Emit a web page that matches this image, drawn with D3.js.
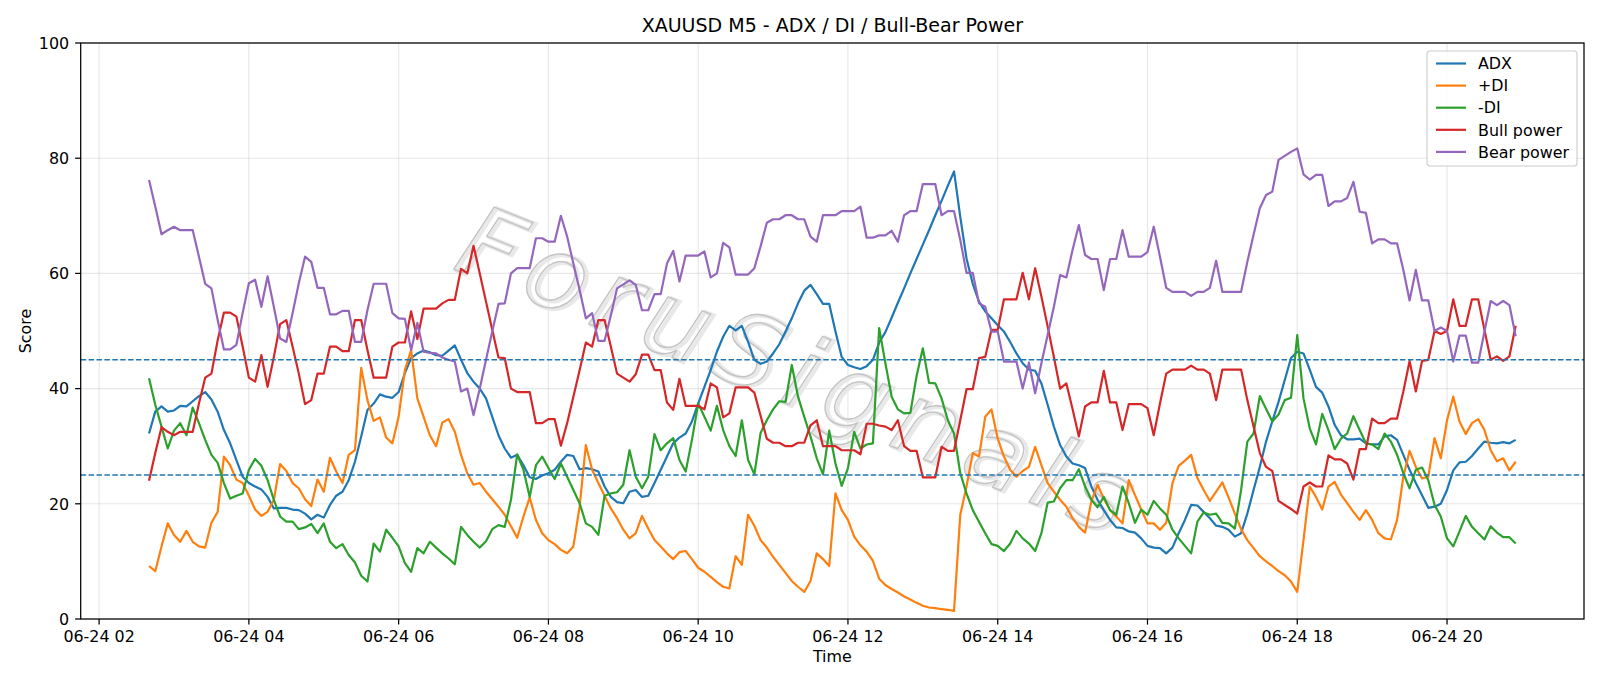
<!DOCTYPE html>
<html>
<head>
    <title>XAUUSD M5 - ADX / DI / Bull-Bear Power</title>
    <style>
        body { margin: 0; background: #fff; }
        svg { display: block; font-family: "DejaVu Sans", sans-serif; }
    </style>
</head>
<body>
    <svg width="1600" height="686"></svg>
    <script src="https://d3js.org/d3.v7.min.js"></script>
    <script>
        // 5 minute bars, first bar at 02:40
        var startTime = new Date(2025, 5, 24, 2, 40);
        var stepMinutes = 5;

        var adx = [32.2, 36.0, 36.9, 36.0, 36.2, 37.0, 36.9, 37.8, 38.7, 39.4, 38.1, 36.0, 32.8, 30.5, 27.6, 24.7, 23.6, 23.0, 22.5, 21.2,
            19.2, 19.3, 19.3, 19.0, 18.9, 18.3, 17.3, 18.1, 17.6, 19.8, 21.4, 22.1, 24.1, 27.3, 31.7, 36.3, 37.4, 39.0, 38.6,
            38.4, 39.4, 42.7, 45.3, 46.1, 46.6, 46.3, 45.8, 45.7, 46.6, 47.5, 45.0, 42.7, 41.2, 40.0, 38.3, 35.1, 31.9, 29.6, 28.0,
            28.5, 26.7, 24.6, 24.3, 24.9, 25.3, 25.9, 27.3, 28.5, 28.3, 26.0, 26.2, 26.0, 25.6, 23.0, 21.2, 20.3, 20.1, 22.1,
            22.4, 21.2, 21.4, 23.6, 25.9, 28.2, 30.5, 31.5, 32.2, 34.3, 37.4, 40.3, 43.2, 46.4, 49.0, 50.9, 50.1, 50.9, 48.1, 45.0,
            44.3, 44.7, 46.1, 47.7, 49.9, 52.2, 54.8, 57.0, 58.0, 56.4, 54.7, 54.7, 49.9, 45.5, 44.1, 43.7, 43.4, 43.9, 45.0,
            48.0, 49.8, 52.3, 54.9, 57.4, 60.0, 62.5, 65.0, 67.5, 70.1, 72.6, 75.2, 77.7, 69.8, 62.6, 58.2, 55.1, 53.4, 52.2, 51.0,
            49.9, 48.1, 46.1, 44.4, 43.3, 43.1, 40.9, 37.2, 33.4, 30.2, 28.2, 27.0, 26.7, 26.2, 23.0, 20.7, 18.9, 17.2, 15.9, 15.8,
            15.2, 15.0, 14.0, 12.7, 12.4, 12.3, 11.4, 12.4, 14.9, 17.2, 19.8, 19.7, 18.6, 17.5, 16.2, 16.0, 15.5, 14.3, 14.9, 18.3,
            22.4, 26.4, 30.8, 34.3, 37.7, 41.5, 45.3, 46.4, 46.1, 43.3, 40.3, 39.3, 36.9, 33.7, 31.9, 31.2, 31.2, 31.3, 30.5,
            30.3, 30.3, 31.7, 31.9, 31.1, 28.5, 25.9, 23.6, 21.5, 19.3, 19.5, 20.0, 22.4, 25.8, 27.2, 27.3, 28.3, 29.6, 30.8, 30.6,
            30.5, 30.7, 30.5, 31.1];

        var plusDI = [9.2, 8.3, 12.6, 16.6, 14.6, 13.4, 15.3, 13.4, 12.6, 12.4, 16.7, 18.6, 28.2, 26.7, 24.2, 23.6, 21.4, 19.0, 17.9, 18.6,
            20.7, 26.9, 25.7, 23.6, 22.7, 20.8, 19.6, 24.2, 22.1, 28.0, 25.6, 23.6, 28.5, 29.3, 43.6, 38.0, 34.4, 35.0, 31.5,
            30.5, 35.1, 43.2, 46.7, 38.3, 35.1, 31.9, 30.0, 34.1, 34.7, 32.5, 28.5, 25.3, 23.3, 23.6, 22.1, 20.8, 19.5, 18.1, 16.1,
            14.1, 17.8, 21.1, 17.2, 14.9, 13.7, 13.0, 12.0, 11.4, 12.6, 19.5, 30.2, 25.9, 23.6, 21.4, 19.2, 17.5, 15.5, 14.0,
            14.9, 17.9, 15.7, 13.7, 12.6, 11.4, 10.4, 11.6, 11.8, 10.4, 8.9, 8.2, 7.3, 6.4, 5.6, 5.3, 10.9, 9.4, 18.1, 16.2,
            13.7, 12.4, 10.8, 9.4, 8.0, 6.6, 5.6, 4.7, 6.6, 11.4, 10.4, 9.2, 21.8, 18.9, 17.2, 14.3, 12.8, 11.7, 10.1,
            7.0, 5.9, 5.2, 4.6, 3.9, 3.4, 2.8, 2.3, 2.0, 1.9, 1.7, 1.6, 1.4, 18.1, 23.0, 28.8, 28.2, 35.1, 36.4, 31.3,
            28.2, 25.9, 24.7, 25.7, 26.4, 29.9, 26.7, 23.6, 22.1, 20.7, 19.5, 17.5, 16.0, 15.0, 20.4, 23.3, 20.9, 18.9, 17.8, 16.6,
            24.1, 21.5, 19.0, 16.6, 16.6, 15.5, 16.7, 23.6, 26.6, 27.5, 28.5, 24.5, 22.4, 20.5, 22.1, 23.7, 21.1, 18.3, 15.6, 13.7,
            12.3, 10.9, 10.0, 9.2, 8.3, 7.6, 6.5, 4.7, 13.7, 23.0, 21.2, 19.0, 23.0, 23.8, 21.6, 20.1, 18.6, 17.2, 18.9,
            17.2, 14.9, 14.0, 13.8, 17.2, 24.7, 29.2, 26.4, 24.4, 24.7, 31.4, 27.9, 34.5, 38.6, 34.3, 32.1, 34.0, 34.7, 32.8, 29.3,
            27.4, 27.9, 25.8, 27.3];

        var minusDI = [41.8, 37.2, 33.4, 29.6, 32.7, 34.0, 31.9, 36.7, 34.0, 31.1, 28.5, 27.1, 23.6, 20.9, 21.4, 21.8, 25.9, 27.8, 26.6, 24.1,
            20.7, 17.8, 16.9, 16.9, 15.6, 15.9, 16.5, 14.9, 16.6, 13.4, 12.3, 13.0, 11.1, 9.8, 7.5, 6.5, 13.1, 11.7, 15.5,
            14.1, 12.6, 9.7, 8.2, 12.3, 11.4, 13.4, 12.4, 11.4, 10.5, 9.5, 16.0, 14.6, 13.4, 12.4, 13.5, 15.6, 16.3, 16.0, 20.7,
            28.6, 25.9, 21.2, 26.7, 28.2, 26.2, 24.3, 27.0, 24.7, 22.4, 20.1, 16.6, 16.0, 14.6, 21.4, 21.8, 22.0, 23.3, 29.3,
            24.7, 22.7, 24.7, 32.1, 29.3, 30.5, 31.4, 27.6, 25.6, 31.1, 37.4, 35.1, 32.7, 37.0, 32.8, 30.0, 28.3, 34.5, 27.6, 25.1,
            32.3, 34.5, 36.4, 37.8, 37.7, 44.1, 38.6, 35.1, 31.7, 27.9, 25.1, 32.7, 27.0, 23.1, 26.2, 32.5, 29.6, 30.3, 30.5,
            50.5, 44.4, 38.6, 36.4, 35.7, 35.8, 42.2, 47.0, 41.0, 40.9, 38.3, 34.5, 32.2, 25.3, 21.8, 18.9, 16.9, 14.9, 13.0, 12.7,
            11.8, 13.1, 15.3, 14.0, 13.1, 11.8, 14.9, 20.2, 20.4, 22.7, 24.1, 24.1, 26.0, 23.0, 20.7, 19.4, 21.2, 18.9, 18.1, 23.0,
            20.1, 16.7, 19.0, 18.1, 20.5, 19.2, 18.1, 15.5, 14.0, 12.7, 11.4, 16.9, 18.5, 18.1, 18.3, 16.7, 16.6, 15.7, 22.4, 30.8,
            32.2, 38.7, 36.5, 34.3, 35.5, 38.0, 38.4, 49.3, 38.3, 33.1, 30.3, 35.6, 32.8, 29.5, 31.3, 32.2, 35.2, 32.8, 30.5,
            30.3, 29.5, 32.2, 30.8, 28.5, 25.3, 22.7, 25.9, 26.3, 24.1, 19.8, 17.8, 14.0, 12.6, 15.2, 17.9, 16.0, 14.9, 13.8, 16.1,
            15.0, 14.2, 14.2, 13.1];

        var bullPower = [24.0, 28.8, 33.3, 32.5, 31.9, 32.5, 32.5, 32.5, 37.4, 41.9, 42.6, 48.4, 53.2, 53.2, 52.5, 47.3, 41.9, 41.2, 45.8, 40.3,
            45.5, 51.2, 51.9, 47.3, 42.6, 37.3, 38.0, 42.6, 42.6, 47.3, 47.3, 46.5, 46.5, 51.9, 51.9, 46.7, 41.9, 41.9, 41.9,
            47.3, 48.0, 48.0, 53.4, 48.6, 53.9, 53.9, 53.9, 54.8, 55.4, 55.4, 60.8, 60.0, 64.8, 60.0, 55.1, 50.2, 45.4, 45.3, 40.0,
            39.4, 39.4, 39.4, 34.0, 34.0, 34.7, 34.7, 30.1, 34.0, 38.6, 43.2, 48.0, 47.3, 51.9, 51.9, 47.3, 42.6, 41.9, 41.2,
            42.5, 45.9, 45.9, 43.2, 43.2, 37.6, 36.3, 41.7, 37.0, 37.0, 37.0, 36.4, 40.9, 40.2, 35.0, 35.7, 40.2, 40.2, 40.2, 39.3,
            35.3, 31.3, 30.6, 30.6, 30.0, 30.0, 30.6, 30.6, 33.6, 34.5, 30.0, 30.0, 30.0, 29.3, 29.3, 29.3, 28.6, 33.9, 33.9,
            33.6, 33.4, 32.8, 34.5, 30.0, 29.2, 29.2, 24.6, 24.6, 24.6, 29.9, 29.2, 29.2, 34.5, 39.9, 39.9, 45.3, 45.5, 50.2, 50.2,
            55.5, 55.5, 55.5, 60.1, 55.5, 60.9, 56.0, 50.8, 45.5, 40.0, 40.9, 36.4, 31.7, 36.9, 37.6, 37.6, 43.1, 37.6, 37.6, 32.8,
            37.3, 37.3, 37.3, 36.6, 31.9, 37.4, 42.6, 43.3, 43.3, 43.3, 44.0, 43.3, 43.3, 42.6, 38.0, 43.3, 43.3, 43.3, 43.3, 38.0,
            33.4, 28.8, 26.4, 25.7, 20.5, 19.8, 19.1, 18.3, 23.0, 23.7, 23.0, 23.0, 28.4, 27.7, 27.7, 27.0, 24.2, 29.5, 29.5,
            34.8, 34.0, 34.0, 34.8, 34.8, 39.5, 44.8, 39.5, 44.8, 45.0, 50.0, 49.5, 50.0, 55.5, 50.9, 50.9, 55.5, 55.5, 50.2, 45.0,
            45.6, 44.8, 45.6, 50.9];

        var bearPower = [76.2, 71.6, 66.8, 67.5, 68.1, 67.5, 67.5, 67.5, 62.9, 58.2, 57.4, 51.9, 46.8, 46.8, 47.6, 53.1, 58.3, 58.9, 54.2, 59.5,
            54.2, 48.7, 48.1, 53.1, 58.3, 62.9, 62.0, 57.5, 57.5, 52.9, 52.9, 53.5, 53.5, 48.1, 48.1, 53.6, 58.2, 58.2, 58.2,
            53.1, 52.2, 52.1, 46.7, 51.4, 46.4, 46.2, 46.1, 45.4, 45.0, 44.7, 39.5, 40.0, 35.4, 40.0, 45.0, 49.9, 54.7, 54.8, 60.0,
            60.9, 60.9, 60.9, 66.1, 66.1, 65.5, 65.5, 70.0, 66.4, 61.7, 57.1, 52.2, 53.1, 48.3, 48.3, 52.7, 57.4, 58.1, 58.8,
            58.0, 53.6, 53.6, 56.4, 56.4, 61.7, 63.9, 58.6, 63.1, 63.1, 63.1, 63.8, 59.3, 60.0, 65.3, 64.5, 59.8, 59.8, 59.8, 60.9,
            64.7, 68.8, 69.4, 69.4, 70.1, 70.1, 69.4, 69.4, 66.4, 65.5, 70.1, 70.1, 70.1, 70.8, 70.8, 70.8, 71.6, 66.2, 66.2,
            66.6, 66.6, 67.4, 65.5, 70.1, 70.8, 70.8, 75.5, 75.5, 75.5, 70.1, 70.8, 70.8, 65.8, 60.1, 60.1, 54.8, 54.2, 49.9, 49.9,
            44.7, 44.7, 44.7, 40.0, 44.5, 39.2, 44.4, 49.3, 54.2, 59.7, 59.3, 64.1, 68.4, 63.2, 62.5, 62.5, 57.1, 62.5, 62.5, 67.5,
            62.9, 62.9, 62.9, 63.7, 68.1, 62.9, 57.5, 56.8, 56.8, 56.8, 56.1, 56.8, 56.8, 57.5, 62.2, 56.8, 56.8, 56.8, 56.8, 62.0,
            66.7, 71.3, 73.6, 74.2, 79.7, 80.4, 81.1, 81.7, 77.2, 76.3, 77.1, 77.1, 71.7, 72.5, 72.5, 73.1, 75.9, 70.7, 70.5,
            65.2, 65.9, 65.9, 65.2, 65.2, 60.6, 55.3, 60.6, 55.3, 55.3, 50.0, 50.6, 50.0, 44.7, 49.2, 49.2, 44.5, 44.5, 49.9, 55.2,
            54.5, 55.2, 54.5, 49.1];

        var seriesNames = ["ADX", "+DI", "-DI", "Bull power", "Bear power"];
        var seriesColors = ["#1f77b4", "#ff7f0e", "#2ca02c", "#d62728", "#9467bd"];
        var thresholds = [25, 45];
        var yTicks = [0, 20, 40, 60, 80, 100];

        var svg = d3.select("svg");
        // plot box (window.top is reserved, so own names here)
        var plotLeft = 80.7, plotRight = 1584, plotTop = 43, plotBottom = 619;

        // time of every bar
        var times = adx.map(function(d, i) {
            return d3.timeMinute.offset(startTime, i * stepMinutes);
        });

        // matplotlib style 5% margin on the time axis
        var t0 = times[0], t1 = times[times.length - 1];
        var pad = (t1 - t0) * 0.05;
        var x = d3.scaleTime()
            .domain([new Date(+t0 - pad), new Date(+t1 + pad)])
            .range([plotLeft, plotRight]);
        var y = d3.scaleLinear().domain([0, 100]).range([plotBottom, plotTop]);

        var xTicks = x.ticks(d3.timeHour.every(2));
        var fmt = d3.timeFormat("%m-%d %H");

        // grid
        var grid = svg.append("g");
        grid.selectAll(".gx").data(xTicks).enter().append("line")
            .attr("x1", function(d) { return x(d); })
            .attr("x2", function(d) { return x(d); })
            .attr("y1", plotTop).attr("y2", plotBottom)
            .attr("stroke", "#b0b0b0").attr("stroke-opacity", 0.3).attr("stroke-width", 1.1);
        grid.selectAll(".gy").data(yTicks).enter().append("line")
            .attr("x1", plotLeft).attr("x2", plotRight)
            .attr("y1", function(d) { return y(d); })
            .attr("y2", function(d) { return y(d); })
            .attr("stroke", "#b0b0b0").attr("stroke-opacity", 0.3).attr("stroke-width", 1.1);

        // watermark
        var wm = svg.append("g")
            .attr("transform", "translate(470,222) rotate(22)");
        wm.append("text")
            .attr("x", 3).attr("y", 50)
            .attr("font-size", 100)
            .attr("letter-spacing", 13)
            .attr("font-style", "italic")
            .attr("fill", "none")
            .attr("stroke", "#e8e8e8")
            .attr("stroke-width", 4)
            .text("ForuSignals");
        wm.append("text")
            .attr("x", 0).attr("y", 50)
            .attr("font-size", 100)
            .attr("letter-spacing", 13)
            .attr("font-style", "italic")
            .attr("fill", "none")
            .attr("stroke", "#c4c4c4")
            .attr("stroke-width", 1.4)
            .text("ForuSignals");

        // series lines
        var allSeries = [adx, plusDI, minusDI, bullPower, bearPower];
        var line = d3.line()
            .x(function(d, i) { return x(times[i]); })
            .y(function(d) { return y(d); });
        svg.append("g").selectAll("path")
            .data(allSeries)
            .enter()
            .append("path")
            .attr("d", function(d) { return line(d); })
            .attr("fill", "none")
            .attr("stroke", function(d, i) { return seriesColors[i]; })
            .attr("stroke-width", 2.2)
            .attr("stroke-linejoin", "round");

        // threshold lines
        svg.append("g").selectAll("line")
            .data(thresholds)
            .enter()
            .append("line")
            .attr("x1", plotLeft).attr("x2", plotRight)
            .attr("y1", function(d) { return y(d); })
            .attr("y2", function(d) { return y(d); })
            .attr("stroke", "#1f77b4")
            .attr("stroke-width", 1.5)
            .attr("stroke-dasharray", "5.5,2.4");

        // axes frame
        svg.append("rect")
            .attr("x", plotLeft).attr("y", plotTop)
            .attr("width", plotRight - plotLeft).attr("height", plotBottom - plotTop)
            .attr("fill", "none").attr("stroke", "#000").attr("stroke-width", 1.25);

        // x ticks
        var xt = svg.append("g").selectAll("g").data(xTicks).enter().append("g");
        xt.append("line")
            .attr("x1", function(d) { return x(d); })
            .attr("x2", function(d) { return x(d); })
            .attr("y1", plotBottom).attr("y2", plotBottom + 5.6)
            .attr("stroke", "#000").attr("stroke-width", 1.25);
        xt.append("text")
            .attr("x", function(d) { return x(d); })
            .attr("y", plotBottom + 11)
            .attr("dy", "0.76em")
            .attr("text-anchor", "middle")
            .attr("font-size", 15.9)
            .text(function(d) { return fmt(d); });

        // y ticks
        var yt = svg.append("g").selectAll("g").data(yTicks).enter().append("g");
        yt.append("line")
            .attr("x1", plotLeft - 5.6).attr("x2", plotLeft)
            .attr("y1", function(d) { return y(d); })
            .attr("y2", function(d) { return y(d); })
            .attr("stroke", "#000").attr("stroke-width", 1.25);
        yt.append("text")
            .attr("x", plotLeft - 11.5)
            .attr("y", function(d) { return y(d); })
            .attr("dy", "0.36em")
            .attr("text-anchor", "end")
            .attr("font-size", 15.9)
            .text(function(d) { return d; });

        // labels and title
        svg.append("text")
            .attr("x", (plotLeft + plotRight) / 2).attr("y", 662)
            .attr("text-anchor", "middle").attr("font-size", 15.9)
            .text("Time");
        svg.append("text")
            .attr("transform", "translate(31," + ((plotTop + plotBottom) / 2) + ") rotate(-90)")
            .attr("text-anchor", "middle").attr("font-size", 15.9)
            .text("Score");
        svg.append("text")
            .attr("x", (plotLeft + plotRight) / 2).attr("y", 32)
            .attr("text-anchor", "middle").attr("font-size", 19)
            .text("XAUUSD M5 - ADX / DI / Bull-Bear Power");

        // legend
        var lg = svg.append("g");
        lg.append("rect")
            .attr("x", 1427).attr("y", 51)
            .attr("width", 150).attr("height", 115)
            .attr("rx", 3)
            .attr("fill", "#fff").attr("fill-opacity", 0.8)
            .attr("stroke", "#cccccc").attr("stroke-width", 1.1);
        var items = lg.selectAll("g.item").data(seriesNames).enter().append("g");
        items.append("line")
            .attr("x1", 1436).attr("x2", 1466)
            .attr("y1", function(d, i) { return 63.5 + i * 22.1; })
            .attr("y2", function(d, i) { return 63.5 + i * 22.1; })
            .attr("stroke", function(d, i) { return seriesColors[i]; })
            .attr("stroke-width", 2.2);
        items.append("text")
            .attr("x", 1478)
            .attr("y", function(d, i) { return 63.5 + i * 22.1; })
            .attr("dy", "0.36em")
            .attr("font-size", 15.9)
            .text(function(d) { return d; });
    </script>
</body>
</html>
